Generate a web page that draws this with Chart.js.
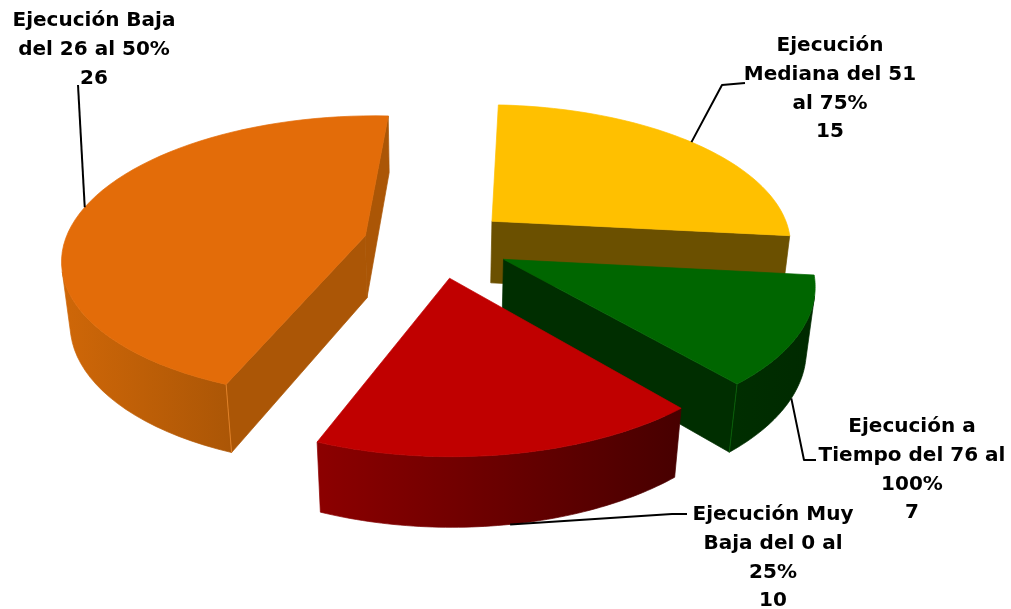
<!DOCTYPE html>
<html lang="es">
<head>
<meta charset="utf-8">
<title>Ejecución</title>
<script src="https://cdn.jsdelivr.net/npm/chart.js@4/dist/chart.umd.min.js"></script>
<style>
  html, body { margin: 0; padding: 0; background: #ffffff; }
  #wrap { width: 1011px; height: 609px; }
</style>
</head>
<body>
<div id="wrap"><canvas id="pieChart" width="1011" height="609"></canvas></div>
<script>
const categoryLines = [
  ['Ejecución', 'Mediana del 51', 'al 75%'],
  ['Ejecución a', 'Tiempo del 76 al', '100%'],
  ['Ejecución Muy', 'Baja del 0 al', '25%'],
  ['Ejecución Baja', 'del 26 al 50%']
];
const values = [15, 7, 10, 26];

const topColors = ['#ffc000', '#006600', '#c00000', '#e36c09'];
const wallColors = ['#6b5000', '#002e00', '#5a0000', '#ab5606'];
const rimLight = ['#6b5000', '#002e00', '#8c0000', '#cf6708'];
const rimDark = ['#6b5000', '#002a00', '#470000', '#ab5606'];
const edgeColors = [null, '#0a6a0a', null, '#ee8a2e'];

// where each label sits: centre x, first baseline, elbow of the leader line
const labelX = [830, 912, 773, 94];
const labelY = [51, 432, 520, 26];
const labelElbow = [[[745, 83], [722, 85]], [[816, 460], [804, 460]], [[687, 514], [672, 514]], [[78, 85], [78, 85]]];
const anchorDepth = [0, 1, 1, 0];

const view = { cx: 437, cy: 243, radius: 301, squash: 0.465, depth: 64, k: 0.15, m: 0.023 };
const lineHeight = 28.8;
const labelFont = '700 20px "DejaVu Sans"';

function project(u, v, z) {
  const w = 1 - view.k * v + view.m * z;
  return [
    view.cx + view.radius * u / w,
    view.cy + (view.radius * view.squash * v + view.depth * z) / w
  ];
}

function arcPoint(arc, angle, frac, z) {
  const mid = (arc.startAngle + arc.endAngle) / 2;
  const offset = arc.options.offset / arc.outerRadius;
  return project(
    Math.cos(angle) * frac + Math.cos(mid) * offset,
    Math.sin(angle) * frac + Math.sin(mid) * offset,
    z
  );
}

function fillPoly(ctx, pts, color) {
  ctx.beginPath();
  pts.forEach((p, i) => i ? ctx.lineTo(p[0], p[1]) : ctx.moveTo(p[0], p[1]));
  ctx.closePath();
  ctx.fillStyle = color;
  ctx.strokeStyle = color;
  ctx.lineWidth = 0.7;
  ctx.fill();
  ctx.stroke();
}

function polyArea(pts) {
  let sum = 0;
  pts.forEach((p, i) => {
    const q = pts[(i + 1) % pts.length];
    sum += p[0] * q[1] - q[0] * p[1];
  });
  return sum;
}

function drawSlice(ctx, arc, idx) {
  const steps = 60;
  const angles = [];
  for (let s = 0; s <= steps; s++) {
    angles.push(arc.startAngle + (arc.endAngle - arc.startAngle) * s / steps);
  }
  const apexTop = arcPoint(arc, 0, 0, 0);
  const apexBot = arcPoint(arc, 0, 0, 1);
  const rimTop = angles.map(a => arcPoint(arc, a, 1, 0));
  const rimBot = angles.map(a => arcPoint(arc, a, 1, 1));

  // radial walls
  [[apexTop, rimTop[0], rimBot[0], apexBot],
   [rimTop[steps], apexTop, apexBot, rimBot[steps]]].forEach(q => {
    if (polyArea(q) < 0) fillPoly(ctx, q, wallColors[idx]);
  });

  // curved wall, only the part facing the viewer
  const shown = [];
  for (let s = 0; s < steps; s++) {
    if (polyArea([rimTop[s], rimTop[s + 1], rimBot[s + 1], rimBot[s]]) < 0) shown.push(s);
  }
  if (shown.length) {
    const first = shown[0];
    const last = shown[shown.length - 1] + 1;
    const upper = rimTop.slice(first, last + 1);
    const lower = rimBot.slice(first, last + 1).reverse();
    const xs = upper.concat(lower).map(p => p[0]);
    const grad = ctx.createLinearGradient(Math.min(...xs), 0, Math.max(...xs), 0);
    grad.addColorStop(0, rimLight[idx]);
    grad.addColorStop(1, rimDark[idx]);
    fillPoly(ctx, upper.concat(lower), grad);
  }

  // thin light line down the front corner
  if (edgeColors[idx]) {
    const corner = idx === 3 ? 0 : steps;
    ctx.beginPath();
    ctx.moveTo(rimTop[corner][0], rimTop[corner][1]);
    ctx.lineTo(rimBot[corner][0], rimBot[corner][1]);
    ctx.strokeStyle = edgeColors[idx];
    ctx.lineWidth = 0.8;
    ctx.stroke();
  }

  fillPoly(ctx, [apexTop].concat(rimTop), topColors[idx]);
}

const pie3d = {
  id: 'pie3d',
  beforeDatasetDraw(chart, args) {
    const ctx = chart.ctx;
    const arcs = chart.getDatasetMeta(args.index).data;
    const order = arcs.map((a, i) => i).sort((i, j) => {
      const mi = (arcs[i].startAngle + arcs[i].endAngle) / 2;
      const mj = (arcs[j].startAngle + arcs[j].endAngle) / 2;
      return Math.sin(mi) - Math.sin(mj);
    });
    ctx.save();
    order.forEach(i => drawSlice(ctx, arcs[i], i));
    ctx.restore();
    return false;
  },
  afterDatasetsDraw(chart) {
    const ctx = chart.ctx;
    const arcs = chart.getDatasetMeta(0).data;
    ctx.save();
    arcs.forEach((arc, i) => {
      const mid = (arc.startAngle + arc.endAngle) / 2;
      const anchor = arcPoint(arc, mid, 1, anchorDepth[i]);
      ctx.beginPath();
      ctx.moveTo(labelElbow[i][0][0], labelElbow[i][0][1]);
      ctx.lineTo(labelElbow[i][1][0], labelElbow[i][1][1]);
      ctx.lineTo(anchor[0], anchor[1]);
      ctx.strokeStyle = '#000000';
      ctx.lineWidth = 2;
      ctx.lineJoin = 'round';
      ctx.stroke();
    });
    ctx.fillStyle = '#000000';
    ctx.font = labelFont;
    ctx.textAlign = 'center';
    ctx.textBaseline = 'alphabetic';
    categoryLines.forEach((lines, i) => {
      lines.concat(String(values[i])).forEach((line, n) => {
        ctx.fillText(line, labelX[i], labelY[i] + n * lineHeight);
      });
    });
    ctx.restore();
  }
};

new Chart(document.getElementById('pieChart'), {
  type: 'pie',
  data: {
    labels: categoryLines.map(l => l.join(' ')),
    datasets: [{
      data: values,
      backgroundColor: topColors,
      borderWidth: 0,
      offset: 66.6
    }]
  },
  options: {
    responsive: false,
    animation: false,
    rotation: 3,
    layout: { padding: 0 },
    plugins: {
      legend: { display: false },
      tooltip: { enabled: false }
    }
  },
  plugins: [pie3d]
});
</script>
</body>
</html>
